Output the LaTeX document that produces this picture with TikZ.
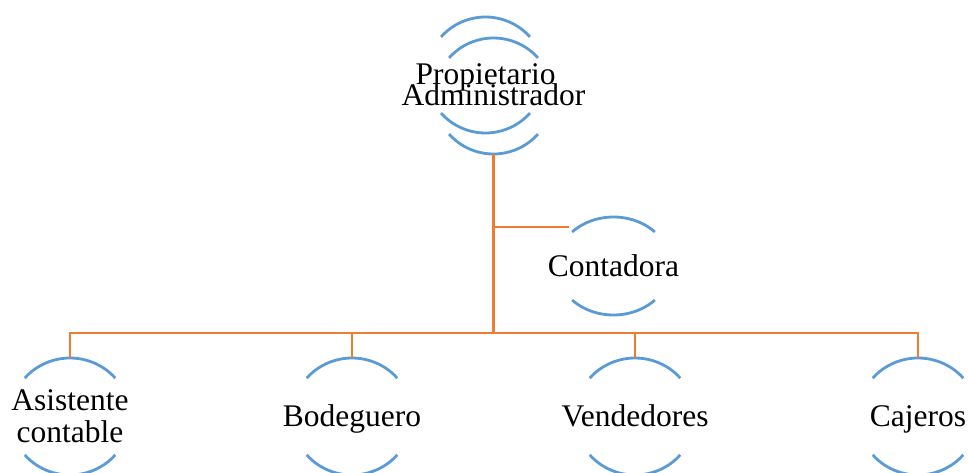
\documentclass[tikz,border=0pt]{standalone}
\usepackage{fontspec}
\setmainfont{Liberation Serif}
\usetikzlibrary{calc}
\definecolor{arcblue}{HTML}{5B9BD5}
\definecolor{linkorange}{HTML}{ED7D31}
\newcommand\ovalarcs[4]{%
  \draw[ovalline] (#1) ++(#4:#2 and #3) arc[start angle=#4, end angle={180-#4}, x radius=#2, y radius=#3];
  \draw[ovalline] (#1) ++({180+#4}:#2 and #3) arc[start angle={180+#4}, end angle={360-#4}, x radius=#2, y radius=#3];
}
\begin{document}
\begin{tikzpicture}[x=1pt,y=1pt,
  ovalline/.style={draw=arcblue, line width=2.8pt},
  conn/.style={draw=linkorange, line width=2.8pt},
  lbl/.style={font=\fontsize{31.5}{32}\selectfont, inner sep=0pt, anchor=base, align=center}]
\useasboundingbox (0,0) rectangle (968,472);
% centres of the shapes
\coordinate (propC) at (485.5,397);
\coordinate (admC) at (493.5,376);
\coordinate (contC) at (613.5,206);
\coordinate (asisC) at (70,55.5);
\coordinate (bodC) at (352,55.5);
\coordinate (venC) at (635,55.5);
\coordinate (cajC) at (918,55.5);
% arcs
\ovalarcs{propC}{58.9pt}{58pt}{41}
\ovalarcs{admC}{58.9pt}{58pt}{41}
\ovalarcs{contC}{57.5pt}{49pt}{44}
\ovalarcs{asisC}{60pt}{58.5pt}{41}
\ovalarcs{bodC}{60pt}{58.5pt}{41}
\ovalarcs{venC}{60pt}{58.5pt}{41}
\ovalarcs{cajC}{60pt}{58.5pt}{41}
% texts
\node[lbl] (prop) at ($(propC)+(0,-10)$) {Propietario};
\node[lbl] (adm) at ($(admC)+(0,-10)$) {Administrador};
\node[lbl] (cont) at ($(contC)+(0,-10)$) {Contadora};
\node[lbl] (asis) at ($(asisC)+(0,-25.5)$) {Asistente\\contable};
\node[lbl] (bod) at ($(bodC)+(0,-10)$) {Bodeguero};
\node[lbl] (ven) at ($(venC)+(0,-10)$) {Vendedores};
\node[lbl] (caj) at ($(cajC)+(0,-10)$) {Cajeros};
% connector end points
\coordinate (adm-s) at ($(admC)+(0,-58)$);
\coordinate (hub) at (493.5,139);
\coordinate (branch) at (493.5,245);
\coordinate (cont-w) at (569,245);
\coordinate (asis-n) at ($(asisC)+(0,58.5)$);
\coordinate (bod-n) at ($(bodC)+(0,58.5)$);
\coordinate (ven-n) at ($(venC)+(0,58.5)$);
\coordinate (caj-n) at ($(cajC)+(0,58.5)$);
% connectors
\draw[conn] (adm-s) -- (hub);
\draw[conn] (branch) -- (cont-w);
\draw[conn] (hub) -| (asis-n);
\draw[conn] (hub) -| (bod-n);
\draw[conn] (hub) -| (ven-n);
\draw[conn] (hub) -| (caj-n);
\end{tikzpicture}
\end{document}
